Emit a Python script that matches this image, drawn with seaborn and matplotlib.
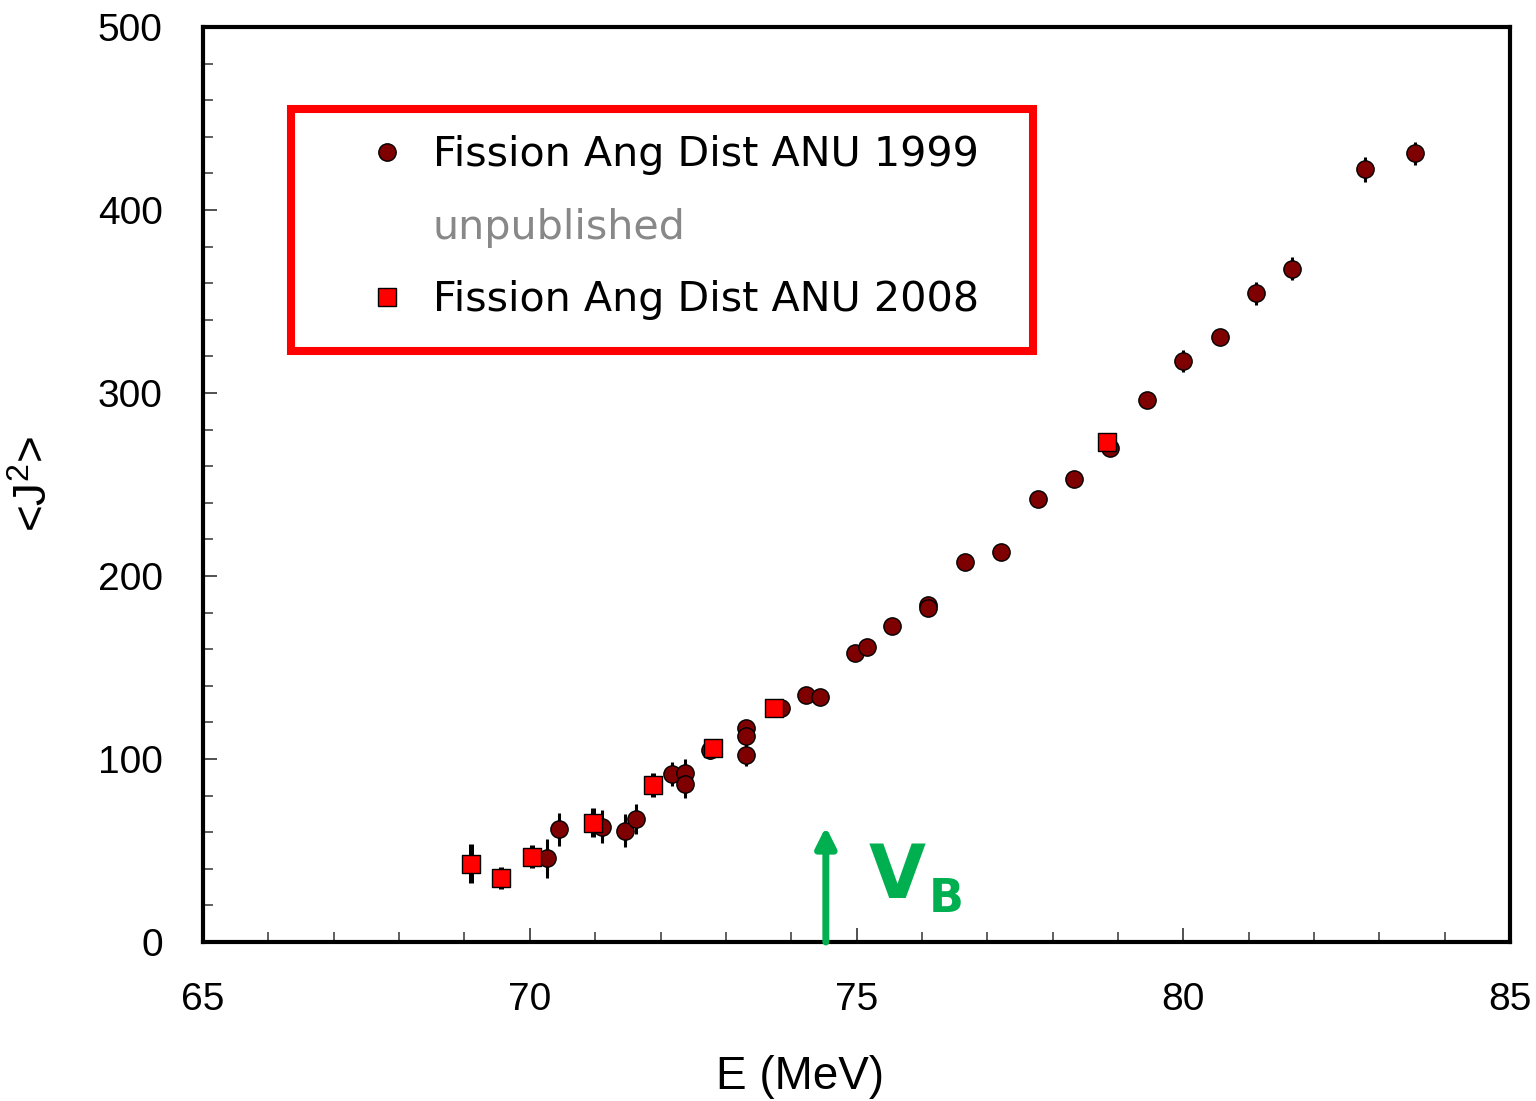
import numpy as np
import pandas as pd
import seaborn as sns
import matplotlib
matplotlib.use("Agg")
import matplotlib.pyplot as plt
from matplotlib.lines import Line2D
from matplotlib.patches import Rectangle

# ---------------- data ----------------
e_1999 = [70.26, 70.45, 71.10, 71.45, 71.63, 72.18, 72.38, 72.38, 72.75, 73.31,
          73.31, 73.31, 73.85, 74.23, 74.44, 74.98, 75.16, 75.54, 76.09, 76.09,
          76.66, 77.21, 77.77, 78.33, 78.88, 79.44, 80.00, 80.56, 81.11, 81.67,
          82.78, 83.55]
j_1999 = [45.7, 61.6, 63.0, 60.7, 67.2, 91.8, 92.5, 86.3, 104.9, 117.1,
          112.6, 102.2, 127.7, 135.0, 134.0, 157.7, 161.0, 172.7, 184.2, 182.7,
          207.8, 212.9, 241.9, 253.2, 269.7, 296.2, 317.7, 330.8, 354.5, 367.8,
          422.2, 430.9]
err_1999 = [10.7, 9.0, 9.0, 9.0, 8.0, 6.3, 7.5, 7.4, 5.0, 4.0,
            4.0, 6.0, 4.0, 3.0, 3.0, 3.0, 3.0, 3.0, 3.0, 3.0,
            3.0, 3.0, 3.0, 3.0, 3.0, 3.0, 6.0, 4.0, 6.4, 6.3,
            6.8, 6.5]

e_2008 = [69.10, 69.56, 70.03, 70.96, 71.88, 72.81, 73.74, 78.84]
j_2008 = [42.8, 34.8, 46.6, 65.2, 85.8, 106.2, 127.7, 273.2]
err_2008 = [10.7, 6.0, 6.3, 8.0, 6.4, 4.0, 3.0, 3.0]

legend_labels = ["Fission Ang Dist ANU 1999", "unpublished", "Fission Ang Dist ANU 2008"]
x_ticks = [65, 70, 75, 80, 85]
y_ticks = [0, 100, 200, 300, 400, 500]
vb_energy = 74.53

df99 = pd.DataFrame({"E": e_1999, "J2": j_1999, "err": err_1999})
df08 = pd.DataFrame({"E": e_2008, "J2": j_2008, "err": err_2008})

# ---------------- style ----------------
sns.set_theme(style="white")
plt.rcParams["font.family"] = ["Liberation Sans", "DejaVu Sans"]
plt.rcParams["mathtext.fontset"] = "custom"
plt.rcParams["mathtext.rm"] = "Liberation Sans"
plt.rcParams["text.color"] = "black"

fig, ax = plt.subplots(figsize=(15.36, 11.01), dpi=100)
fig.subplots_adjust(left=0.1322, right=0.9831, top=0.9755, bottom=0.1444)

circ_col = "#7f0000"
sq_col = "#ff0000"

ax.errorbar(df99["E"], df99["J2"], yerr=df99["err"], fmt="none", ecolor="black",
            elinewidth=2.2, capsize=0, zorder=2)
sns.scatterplot(data=df99, x="E", y="J2", ax=ax, marker="o", s=155, color=circ_col,
                edgecolor="black", linewidth=1.0, zorder=3, legend=False)
ax.errorbar(df08["E"], df08["J2"], yerr=df08["err"], fmt="none", ecolor="black",
            elinewidth=3.6, capsize=0, zorder=4)
sns.scatterplot(data=df08, x="E", y="J2", ax=ax, marker="s", s=155, color=sq_col,
                edgecolor="black", linewidth=1.0, zorder=5, legend=False)

ax.set_xlim(65, 85)
ax.set_ylim(0, 500)
ax.set_xticks(x_ticks)
ax.set_yticks(y_ticks)
ax.set_xticks(np.arange(65, 85.01, 1), minor=True)
ax.set_yticks(np.arange(0, 500.01, 20), minor=True)
ax.tick_params(axis="both", which="major", direction="in", length=10, width=1.2,
               color="#333333", labelsize=28, pad=29, labelcolor="black",
               bottom=True, left=True, top=False, right=False)
ax.tick_params(axis="both", which="minor", direction="in", length=7, width=1.2,
               color="#444444", bottom=True, left=True, top=False, right=False)
for sp in ax.spines.values():
    sp.set_visible(True)
    sp.set_linewidth(3.0)
    sp.set_color("black")

ax.set_xlabel("E (MeV)", fontsize=33, color="black")
ax.xaxis.set_label_coords(0.457, -0.124)
ax.set_ylabel(r"<J$^{\mathrm{2}}$>", fontsize=33, color="black")
ax.yaxis.set_label_coords(-0.112, 0.5)

# V_B arrow and label
ax.annotate("", xy=(vb_energy, 63), xytext=(vb_energy, 0),
            arrowprops=dict(arrowstyle="-|>,head_length=1.0,head_width=0.5",
                            color="#00b050", lw=5, shrinkA=0, shrinkB=0),
            zorder=6)
ax.text(75.18, 24, "V", fontsize=53, fontweight="bold", color="#00b050",
        family="DejaVu Sans", ha="left", va="baseline")
ax.text(76.10, 16.4, "B", fontsize=33, fontweight="bold", color="#00b050",
        family="DejaVu Sans", ha="left", va="baseline")

# legend frame
ax.add_patch(Rectangle((0.0673, 0.6459), 0.5677, 0.2645, transform=ax.transAxes,
                       fill=False, edgecolor="#ff0000", linewidth=5.8, zorder=7))

handles = [
    Line2D([], [], linestyle="none", marker="o", markersize=12.5,
           markerfacecolor=circ_col, markeredgecolor="black", markeredgewidth=1.0),
    Line2D([], [], linestyle="none", marker=None),
    Line2D([], [], linestyle="none", marker="s", markersize=12.5,
           markerfacecolor=sq_col, markeredgecolor="black", markeredgewidth=1.0),
]
leg = ax.legend(handles, legend_labels, loc="upper left",
                bbox_to_anchor=(0.1247, 0.882), frameon=False,
                prop={"family": "DejaVu Sans", "size": 29.7},
                handlelength=1.0, handletextpad=0.62, labelspacing=0.79,
                borderpad=0, borderaxespad=0)
leg.set_zorder(8)
texts = leg.get_texts()
for t in texts:
    t.set_color("black")
texts[1].set_color("#888888")

fig.savefig("out.png", dpi=100)
